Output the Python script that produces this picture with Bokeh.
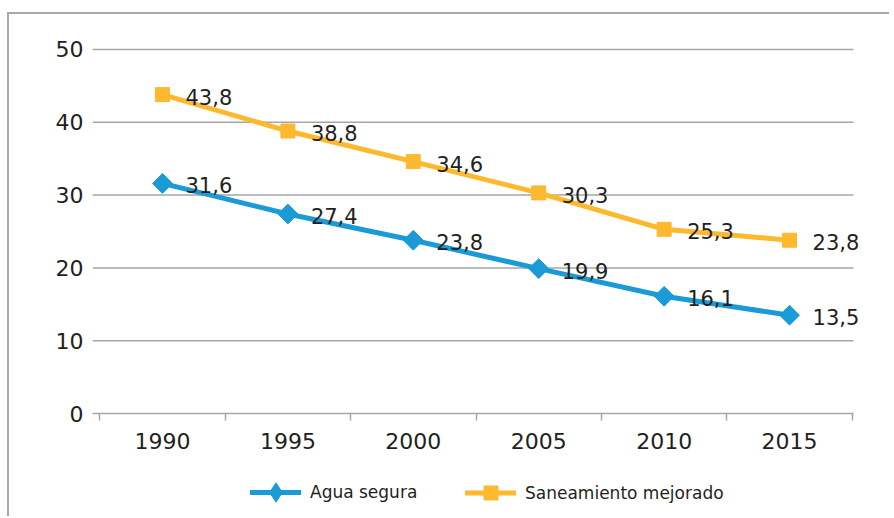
import math
from bokeh.plotting import figure
from bokeh.layouts import column
from bokeh.models import FixedTicker, Legend, LegendItem, Range1d
from bokeh.embed import file_html
from bokeh.resources import INLINE
from bokeh.core.properties import value

years = ["1990", "1995", "2000", "2005", "2010", "2015"]
agua = [31.6, 27.4, 23.8, 19.9, 16.1, 13.5]
saneamiento = [43.8, 38.8, 34.6, 30.3, 25.3, 23.8]
y_ticks = [0, 10, 20, 30, 40, 50]
series_names = ["Agua segura", "Saneamiento mejorado"]

BLUE = "#1a9ad6"
ORANGE = "#fdb92e"
GRID = "#a6a6a6"
TEXT = "#231f20"
FONT = "DejaVu Sans"

# horizontal extent of the drawn axis / gridlines (layout)
X_LEFT, X_RIGHT = -0.558, 5.51

xs = list(range(len(years)))

p = figure(width=880, height=449, output_backend="svg", toolbar_location=None,
           x_range=Range1d(X_LEFT, 5.765), y_range=Range1d(0, 50.96),
           min_border_left=83, min_border_right=4, min_border_top=28,
           min_border_bottom=50)
p.outline_line_color = None

# x axis
p.xaxis.ticker = FixedTicker(ticks=xs, minor_ticks=[i - 0.5 for i in range(len(years) + 1)])
p.xaxis.major_label_overrides = {i: y for i, y in enumerate(years)}
p.xaxis.bounds = (X_LEFT, X_RIGHT)
p.xaxis.major_tick_out = 0
p.xaxis.major_tick_in = 0
p.xaxis.minor_tick_out = 7
p.xaxis.minor_tick_in = 0
p.xaxis.minor_tick_line_color = GRID
p.xaxis.minor_tick_line_width = 1.5
p.xaxis.axis_line_color = GRID
p.xaxis.axis_line_width = 1.5
p.xaxis.major_label_standoff = 12

# y axis
p.yaxis.ticker = FixedTicker(ticks=y_ticks)
p.yaxis.axis_line_color = None
p.yaxis.major_tick_out = 0
p.yaxis.major_tick_in = 0
p.yaxis.major_label_standoff = 9

p.axis.major_label_text_font = FONT
p.axis.major_label_text_font_size = "22px"
p.axis.major_label_text_color = TEXT

p.xgrid.visible = False
p.ygrid.visible = False
grid_y = [t for t in y_ticks if t > 0]
p.segment(x0=[X_LEFT] * len(grid_y), x1=[X_RIGHT] * len(grid_y), y0=grid_y, y1=grid_y,
          line_color=GRID, line_width=1.5)

line_kw = dict(line_width=5, line_cap="round", line_join="round")
p.line(xs, agua, line_color=BLUE, **line_kw)
p.scatter(xs, agua, marker="square", angle=math.pi / 4, size=14,
          fill_color=BLUE, line_color=BLUE)
p.line(xs, saneamiento, line_color=ORANGE, **line_kw)
p.scatter(xs, saneamiento, marker="square", size=14,
          fill_color=ORANGE, line_color=ORANGE)

for vals in (agua, saneamiento):
    p.text(xs, vals, text=[f"{v:.1f}".replace(".", ",") for v in vals],
           x_offset=23, y_offset=2, text_baseline="middle", text_align="left",
           text_font=value(FONT), text_font_size="21px", text_color=TEXT)

# legend strip below the chart (series drawn out of its view; only the legend shows)
pl = figure(width=880, height=53, output_backend="svg", toolbar_location=None,
            x_axis_location=None, y_axis_location=None,
            x_range=Range1d(100, 101), y_range=Range1d(1000, 1001), min_border=0)
pl.outline_line_color = None
pl.xgrid.visible = False
pl.ygrid.visible = False
l1 = pl.line(xs, agua, line_color=BLUE, **line_kw)
s1 = pl.scatter(xs, agua, marker="diamond", size=14, fill_color=BLUE, line_color=BLUE)
l2 = pl.line(xs, saneamiento, line_color=ORANGE, **line_kw)
s2 = pl.scatter(xs, saneamiento, marker="square", size=14,
                fill_color=ORANGE, line_color=ORANGE)

leg_kw = dict(orientation="horizontal", glyph_width=51, label_standoff=9,
              padding=0, margin=0, border_line_alpha=0, background_fill_alpha=0,
              label_text_font=FONT, label_text_font_size="17px", label_text_color=TEXT)
legend1 = Legend(items=[LegendItem(label=series_names[0], renderers=[l1, s1])],
                 location=(158, 0), glyph_height=48, **leg_kw)
legend2 = Legend(items=[LegendItem(label=series_names[1], renderers=[l2, s2])],
                 location=(373, 6), glyph_height=35, **leg_kw)
pl.add_layout(legend1, "center")
pl.add_layout(legend2, "center")

layout = column(p, pl, spacing=0)
layout.styles = {"border-left": "2px solid #a8a8a8", "border-top": "2px solid #a8a8a8"}
layout.margin = (12, 0, 0, 7)

open("out.html", "w").write(file_html(layout, INLINE))
